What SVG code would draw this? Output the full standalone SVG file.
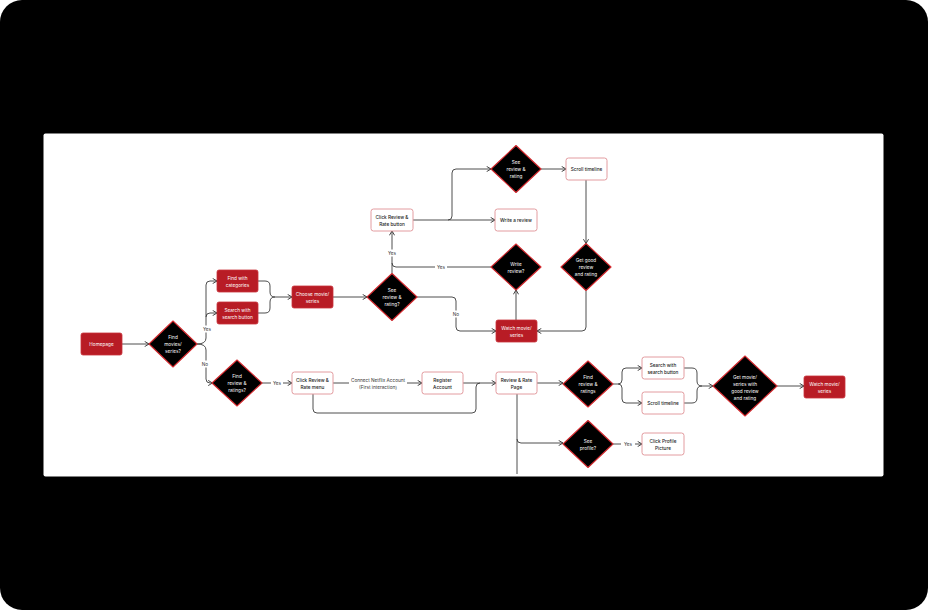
<svg xmlns="http://www.w3.org/2000/svg" width="928" height="610" viewBox="0 0 928 610">
<defs>
<marker id="arr" viewBox="0 0 6 6" refX="5.2" refY="3" markerWidth="6" markerHeight="6" markerUnits="userSpaceOnUse" orient="auto">
<path d="M1.2,0.6 L5.2,3 L1.2,5.4" fill="none" stroke="#333" stroke-width="0.9" stroke-linecap="round" stroke-linejoin="round"/>
</marker>
</defs>
<style>
text{font-family:Inter,"Noto Sans","Liberation Sans",sans-serif;font-size:4.7px;text-anchor:middle;dominant-baseline:central}
.red rect{fill:#b81c25;stroke:#c9333b;stroke-width:0.8}
.red text{fill:#fff}
.wht rect{fill:#fff;stroke:#e39ca0;stroke-width:1}
.wht text{fill:#222;font-weight:500}
.dia path{fill:#000;stroke:#d42a2f;stroke-width:1.1;stroke-linejoin:round}
.dia text{fill:#fff}
.con path{fill:none;stroke:#3a3a3a;stroke-width:0.9}
.arr{marker-end:url(#arr)}
.lbl rect{fill:#fff}
.lbl text{fill:#333}
</style>
<rect width="928" height="610" fill="#fff"/>
<rect width="928" height="610" rx="22" fill="#000"/>
<rect x="43.5" y="133.5" width="840" height="343" rx="2" fill="#fff"/>

<g id="connectors" class="con">
<path class="arr" d="M122,344 H149"/>
<path d="M197,344 Q206,344 206,338 V285 Q206,281 210,281 H217" class="arr"/>
<path d="M206,317 Q206,313 210,313 H217" class="arr"/>
<path d="M197,344 Q206,344 206,350 V379 Q206,383 210,383 H212.5" class="arr"/>
<path d="M258,281 H265 Q270,281 270,286 V292 Q270,297 275,297"/>
<path d="M258,313 H265 Q270,313 270,308 V302 Q270,297 275,297 H292" class="arr"/>
<path d="M333,297 H367" class="arr"/>
<path d="M392,273.5 V231" class="arr"/>
<path d="M491,267 H396 Q392,267 392,263"/>
<path d="M417,297 H452 Q456,297 456,301 V327 Q456,331 460,331 H496" class="arr"/>
<path d="M413,220 H495" class="arr"/>
<path d="M448,220 Q452,220 452,216 V173 Q452,169 456,169 H491" class="arr"/>
<path d="M541,169 H566" class="arr"/>
<path d="M586,180 V243.5" class="arr"/>
<path d="M586,290.5 V327 Q586,331 582,331 H537" class="arr"/>
<path d="M516,320 V290" class="arr"/>
<path d="M262,383 H292" class="arr"/>
<path d="M333,383 H422" class="arr"/>
<path d="M463,383 H496" class="arr"/>
<path d="M313,394 V409 Q313,413 317,413 H472 Q476,413 476,409 V387 Q476,383 480,383"/>
<path d="M537,383 H563" class="arr"/>
<path d="M517,394 V474"/>
<path d="M517,439 Q517,443 521,443 H563" class="arr"/>
<path d="M613,384 H618 Q622,384 622,380 V372 Q622,368 626,368 H642" class="arr"/>
<path d="M618,384 Q622,384 622,388 V399 Q622,403 626,403 H642" class="arr"/>
<path d="M684,368 H692 Q697,368 697,373 V381 Q697,386 702,386"/>
<path d="M684,403 H692 Q697,403 697,398 V391 Q697,386 702,386 H713" class="arr"/>
<path d="M777,386 H804" class="arr"/>
<path d="M613,444 H642" class="arr"/>
</g>

<g id="labels" class="lbl">
<rect x="201" y="325.5" width="12" height="7"/><text x="207" y="329">Yes</text>
<rect x="200" y="360.5" width="10" height="7"/><text x="205" y="364">No</text>
<rect x="386" y="249.5" width="12" height="7"/><text x="392" y="253">Yes</text>
<rect x="435" y="263.5" width="12" height="7"/><text x="441" y="267">Yes</text>
<rect x="451" y="310.5" width="10" height="7"/><text x="456" y="314">No</text>
<rect x="271" y="379.5" width="12" height="7"/><text x="277" y="383">Yes</text>
<rect x="349" y="376" width="58" height="14"/><text x="378" y="380" fill="#444">Connect Netflix Account</text><text x="378" y="387" fill="#444">(First interaction)</text>
<rect x="621" y="440.5" width="14" height="7"/><text x="628" y="444">Yes</text>
</g>

<g id="homepage" class="red"><rect x="81" y="333" width="41" height="22" rx="2"/><text x="101.5" y="344">Homepage</text></g>
<g id="find-categories" class="red"><rect x="217" y="270" width="41" height="22" rx="2"/><text x="237.5" y="277.5">Find with</text><text x="237.5" y="285">categories</text></g>
<g id="search-button" class="red"><rect x="217" y="302" width="41" height="22" rx="2"/><text x="237.5" y="309.5">Search with</text><text x="237.5" y="317">search button</text></g>
<g id="choose-movie" class="red"><rect x="292" y="286" width="41" height="22" rx="2"/><text x="312.5" y="293.5">Choose movie/</text><text x="312.5" y="301">series</text></g>
<g id="watch-mid" class="red"><rect x="496" y="320" width="41" height="22" rx="2"/><text x="516.5" y="327.5">Watch movie/</text><text x="516.5" y="335">series</text></g>
<g id="watch-right" class="red"><rect x="804" y="376" width="41" height="22" rx="2"/><text x="824.5" y="383.5">Watch movie/</text><text x="824.5" y="391">series</text></g>

<g id="click-rate-menu" class="wht"><rect x="292" y="372" width="41" height="22" rx="2.5"/><text x="312.5" y="379.5">Click Review &amp;</text><text x="312.5" y="387">Rate menu</text></g>
<g id="register-account" class="wht"><rect x="422" y="372" width="41" height="22" rx="2.5"/><text x="442.5" y="379.5">Register</text><text x="442.5" y="387">Account</text></g>
<g id="review-rate-page" class="wht"><rect x="496" y="372" width="41" height="22" rx="2.5"/><text x="516.5" y="379.5">Review &amp; Rate</text><text x="516.5" y="387">Page</text></g>
<g id="click-rate-button" class="wht"><rect x="371" y="209" width="42" height="22" rx="2.5"/><text x="392" y="216.5">Click Review &amp;</text><text x="392" y="224">Rate button</text></g>
<g id="write-review" class="wht"><rect x="495" y="209" width="42" height="22" rx="2.5"/><text x="516" y="220">Write a review</text></g>
<g id="scroll-top" class="wht"><rect x="566" y="158" width="41" height="22" rx="2.5"/><text x="586.5" y="169">Scroll timeline</text></g>
<g id="search-right" class="wht"><rect x="642" y="357" width="42" height="22" rx="2.5"/><text x="663" y="364.5">Search with</text><text x="663" y="372">search button</text></g>
<g id="scroll-right" class="wht"><rect x="642" y="392" width="42" height="22" rx="2.5"/><text x="663" y="403">Scroll timeline</text></g>
<g id="click-profile" class="wht"><rect x="642" y="433" width="42" height="22" rx="2.5"/><text x="663" y="440.5">Click Profile</text><text x="663" y="448">Picture</text></g>

<g id="d-find-movies" class="dia"><path d="M173,321 L197,344 L173,367 L149,344 Z"/><text x="173" y="337">Find</text><text x="173" y="344">movies/</text><text x="173" y="351">series?</text></g>
<g id="d-find-review-left" class="dia"><path d="M237,360 L262,383 L237,406 L212,383 Z"/><text x="237" y="376">Find</text><text x="237" y="383">review &amp;</text><text x="237" y="390">ratings?</text></g>
<g id="d-see-review-mid" class="dia"><path d="M392,273.5 L417,297 L392,320.5 L367,297 Z"/><text x="392" y="290">See</text><text x="392" y="297">review &amp;</text><text x="392" y="304">rating?</text></g>
<g id="d-see-review-top" class="dia"><path d="M516,145.5 L541,169 L516,192.5 L491,169 Z"/><text x="516" y="162">See</text><text x="516" y="169">review &amp;</text><text x="516" y="176">rating</text></g>
<g id="d-write-review" class="dia"><path d="M516,244 L541,267 L516,290 L491,267 Z"/><text x="516" y="263.5">Write</text><text x="516" y="270.5">review?</text></g>
<g id="d-get-good" class="dia"><path d="M586,243.5 L611,267 L586,290.5 L561,267 Z"/><text x="586" y="259.5">Get good</text><text x="586" y="266.8">review</text><text x="586" y="274">and rating</text></g>
<g id="d-find-review-right" class="dia"><path d="M588,361 L613,384 L588,407 L563,384 Z"/><text x="588" y="377">Find</text><text x="588" y="384">review &amp;</text><text x="588" y="391">ratings</text></g>
<g id="d-get-movie" class="dia"><path d="M745,356 L777,386 L745,416 L713,386 Z"/><text x="745" y="376.5">Get movie/</text><text x="745" y="383.8">series with</text><text x="745" y="391">good review</text><text x="745" y="398.2">and rating</text></g>
<g id="d-see-profile" class="dia"><path d="M588,420.5 L613,444 L588,467.5 L563,444 Z"/><text x="588" y="440.5">See</text><text x="588" y="447.5">profile?</text></g>
</svg>
